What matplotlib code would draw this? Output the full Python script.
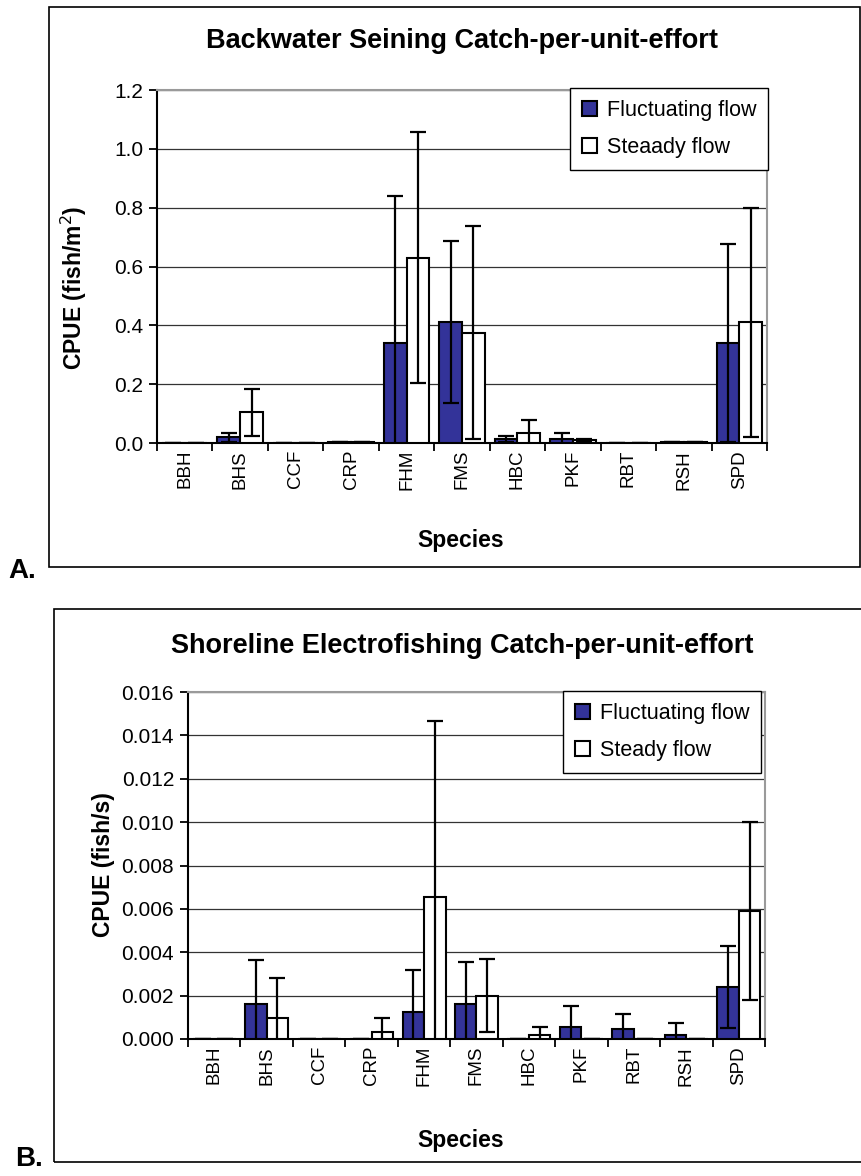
import numpy as np
import matplotlib
matplotlib.use('Agg')
import matplotlib.pyplot as plt
from matplotlib.patches import Rectangle
from matplotlib.ticker import FormatStrFormatter, FixedLocator

species = ['BBH', 'BHS', 'CCF', 'CRP', 'FHM', 'FMS', 'HBC', 'PKF', 'RBT', 'RSH', 'SPD']

# backwater seining CPUE (fish/m2)
seine_fluct = [0, 0.02, 0, 0.005, 0.34, 0.41, 0.015, 0.013, 0, 0.005, 0.34]
seine_fluct_err = [0, 0.015, 0, 0, 0.50, 0.275, 0.01, 0.022, 0, 0, 0.337]
seine_steady = [0, 0.105, 0, 0.005, 0.63, 0.375, 0.034, 0.009, 0, 0.002, 0.41]
seine_steady_err = [0, 0.08, 0, 0, 0.427, 0.363, 0.043, 0.004, 0, 0, 0.39]

# shoreline electrofishing CPUE (fish/s)
shore_fluct = [0, 0.0016, 0, 0, 0.00126, 0.00163, 0, 0.00057, 0.00047, 0.0002, 0.00241]
shore_fluct_err = [0, 0.00204, 0, 0, 0.0019, 0.0019, 0, 0.00095, 0.00067, 0.00055, 0.0019]
shore_steady = [0, 0.00095, 0, 0.0003, 0.00656, 0.002, 0.0002, 0, 0, 0, 0.0059]
shore_steady_err = [0, 0.00185, 0, 0.00065, 0.0081, 0.0017, 0.00035, 0, 0, 0, 0.0041]

W, H = 862, 1176
plt.rcParams['font.family'] = ['Liberation Sans', 'DejaVu Sans']

fig = plt.figure(figsize=(W / 100, H / 100), dpi=100)


def px_rect(x0, y0, x1, y1):
    return [x0 / W, 1 - y1 / H, (x1 - x0) / W, (y1 - y0) / H]


def panel(rect, fl, fl_err, st, st_err, ymax, step, fmt, title, ylabel, legend_px,
          steady_label, title_y, ylabel_xy, xlabel_y):
    ax = fig.add_axes(px_rect(*rect))
    x = np.arange(len(species))
    w = 0.41
    ekw = dict(ecolor='black', elinewidth=1.6, capsize=5.5, capthick=1.6)
    ax.bar(x - w / 2, fl, w, color='#333399', edgecolor='black', linewidth=1.5,
           yerr=fl_err, error_kw=ekw, label='Fluctuating flow', zorder=3)
    ax.bar(x + w / 2, st, w, color='white', edgecolor='black', linewidth=1.5,
           yerr=st_err, error_kw=ekw, label=steady_label, zorder=3)
    ax.set_xlim(-0.5, len(species) - 0.5)
    ax.set_ylim(0, ymax)
    ax.yaxis.set_major_locator(FixedLocator(np.arange(0, ymax + step / 2, step)))
    ax.yaxis.set_major_formatter(FormatStrFormatter(fmt))
    ax.grid(axis='y', color='#333333', linewidth=0.9, zorder=0)
    ax.set_axisbelow(True)
    ax.set_xticks(x)
    ax.set_xticklabels(species, rotation=90, fontsize=13.5)
    ax.set_xticks(np.arange(-0.5, len(species)), minor=True)
    ax.tick_params(axis='x', which='major', length=0, pad=5)
    ax.tick_params(axis='x', which='minor', length=6, width=1.3)
    ax.tick_params(axis='y', length=6, width=1.3, labelsize=15, pad=4)
    for s in ['left', 'bottom']:
        ax.spines[s].set_linewidth(1.5)
    for s in ['top', 'right']:
        ax.spines[s].set_color('#9a9a9a')
        ax.spines[s].set_linewidth(1.5)
    fig.text(462 / W, 1 - title_y / H, title, ha='center', va='center',
             fontsize=19.5, fontweight='bold')
    fig.text(ylabel_xy[0] / W, 1 - ylabel_xy[1] / H, ylabel, ha='center',
             va='center', rotation=90, fontsize=16.5, fontweight='bold')
    fig.text(461 / W, 1 - xlabel_y / H, 'Species', ha='center', va='center',
             fontsize=16.5, fontweight='bold')
    leg = ax.legend(loc='upper right', bbox_to_anchor=(legend_px[0] / W, 1 - legend_px[1] / H),
                    bbox_transform=fig.transFigure, borderaxespad=0, fontsize=15.5,
                    fancybox=False, framealpha=1, edgecolor='black',
                    handlelength=0.7, handleheight=0.7, handletextpad=0.45,
                    labelspacing=0.75, borderpad=0.55)
    leg.get_frame().set_linewidth(1.0)
    leg.set_zorder(5)
    return ax


panel((157, 90, 767, 443), seine_fluct, seine_fluct_err, seine_steady, seine_steady_err,
      1.2, 0.2, '%.1f', 'Backwater Seining Catch-per-unit-effort', 'CPUE (fish/m$^2$)',
      (768, 88), 'Steaady flow', 41, (74, 288), 541)
panel((188, 692, 765, 1039), shore_fluct, shore_fluct_err, shore_steady, shore_steady_err,
      0.016, 0.002, '%.3f', 'Shoreline Electrofishing Catch-per-unit-effort', 'CPUE (fish/s)',
      (761, 691), 'Steady flow', 646, (104, 865), 1141)

# outer frames around each panel
for x0, y0, x1, y1 in [(49, 7, 860, 567), (54, 609, 870, 1162)]:
    fig.patches.append(Rectangle((x0 / W, 1 - y1 / H), (x1 - x0) / W, (y1 - y0) / H,
                                 transform=fig.transFigure, fill=False,
                                 edgecolor='black', linewidth=1.2))

fig.text(22 / W, 1 - 571 / H, 'A.', ha='center', va='center', fontsize=20,
         fontweight='bold')
fig.text(29 / W, 1 - 1159 / H, 'B.', ha='center', va='center', fontsize=20,
         fontweight='bold')

fig.savefig('out.png', dpi=100, facecolor='white')
